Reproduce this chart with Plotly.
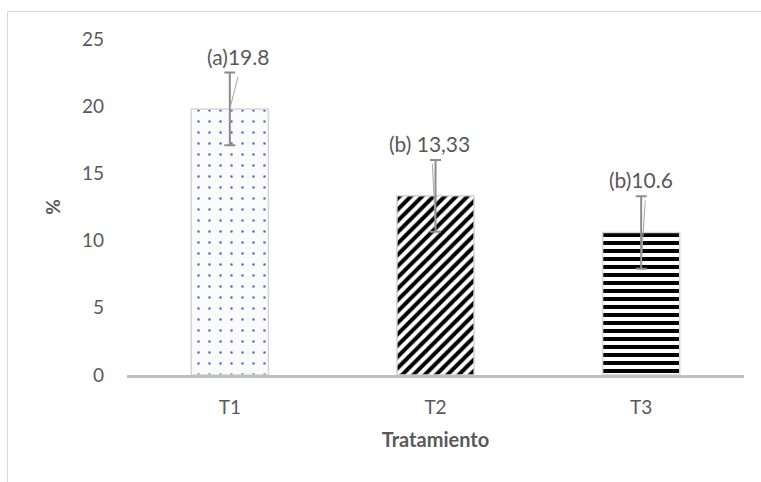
import plotly.graph_objects as go

# Treatment means with their error margins
tratamientos = ["T1", "T2", "T3"]
porcentaje = [19.8, 13.33, 10.6]
error = [2.7, 2.67, 2.7]
etiquetas = ["(a)19.8", "(b) 13,33", "(b)10.6"]

y_ticks = [0, 5, 10, 15, 20, 25]

patterns = [
    dict(shape=".", fgcolor="#4472c4", bgcolor="#fbfbfb", size=11,
         solidity=0.04, fgopacity=1),
    dict(shape="/", fgcolor="#000000", bgcolor="#ffffff", size=8,
         solidity=0.5, fgopacity=1),
    dict(shape="-", fgcolor="#000000", bgcolor="#ffffff", size=8,
         solidity=0.5, fgopacity=1),
]

FONT = "Lato, 'Noto Sans', sans-serif"
GREY_TXT = "#595959"

fig = go.Figure()
for i, t in enumerate(tratamientos):
    fig.add_trace(go.Bar(
        x=[i], y=[porcentaje[i]], width=0.375,
        marker=dict(pattern=patterns[i], color="#fbfbfb",
                    line=dict(color="#d6d6d6", width=1.5)),
        error_y=dict(type="data", array=[error[i]], visible=True,
                     color="#8c8c8c", thickness=2, width=5.5),
        showlegend=False, hoverinfo="skip",
    ))

# Data labels above the upper whisker, with thin leader lines
label_shift = [8, -6, 0]
leader_dx = [0.04, -0.015, 0.02]
for i, t in enumerate(tratamientos):
    hi = porcentaje[i] + error[i]
    lo = porcentaje[i] - error[i]
    fig.add_annotation(x=i, y=hi, text=etiquetas[i], showarrow=False,
                       yanchor="bottom", yshift=2, xshift=label_shift[i],
                       font=dict(family=FONT, size=21, color=GREY_TXT))
    bottom = porcentaje[i] if i == 0 else lo + 0.3
    fig.add_shape(type="line", xref="x", yref="y",
                  x0=i + leader_dx[i], y0=hi - 0.3, x1=i, y1=bottom,
                  line=dict(color="#a6a6a6", width=1))

# Chart frame (left and top edges)
L, R, T, B = 127, 744, 39, 375
W, H = R - L, B - T
fig.add_shape(type="line", xref="paper", yref="paper",
              x0=(7.5 - L) / W, x1=(761 - L) / W,
              y0=(B - 11.5) / H, y1=(B - 11.5) / H,
              line=dict(color="#d9d9d9", width=1))
fig.add_shape(type="line", xref="paper", yref="paper",
              x0=(7.5 - L) / W, x1=(7.5 - L) / W,
              y0=(B - 11.5) / H, y1=(B - 482) / H,
              line=dict(color="#d9d9d9", width=1))

fig.update_layout(
    width=761, height=482,
    margin=dict(l=L, r=761 - R, t=T, b=482 - B),
    paper_bgcolor="white", plot_bgcolor="white",
    font=dict(family=FONT, color=GREY_TXT, size=19),
    xaxis=dict(
        range=[-0.5, 2.5], tickmode="array", tickvals=[0, 1, 2],
        ticktext=tratamientos, showgrid=False, zeroline=False,
        showline=True, linecolor="#bfbfbf", linewidth=2.5,
        ticks="", ticklabelstandoff=13, tickfont=dict(size=19, color=GREY_TXT),
        title=dict(text="<b>Tratamiento</b>", standoff=17,
                   font=dict(size=20, color=GREY_TXT)),
    ),
    yaxis=dict(
        range=[0, 25], tickmode="array", tickvals=y_ticks,
        showgrid=False, zeroline=False, showline=False,
        ticks="", ticklabelstandoff=22, tickfont=dict(size=19, color=GREY_TXT),
        title=dict(text="<b>%</b>", standoff=16,
                   font=dict(size=19, color=GREY_TXT)),
    ),
)

fig.write_html("out.html")
